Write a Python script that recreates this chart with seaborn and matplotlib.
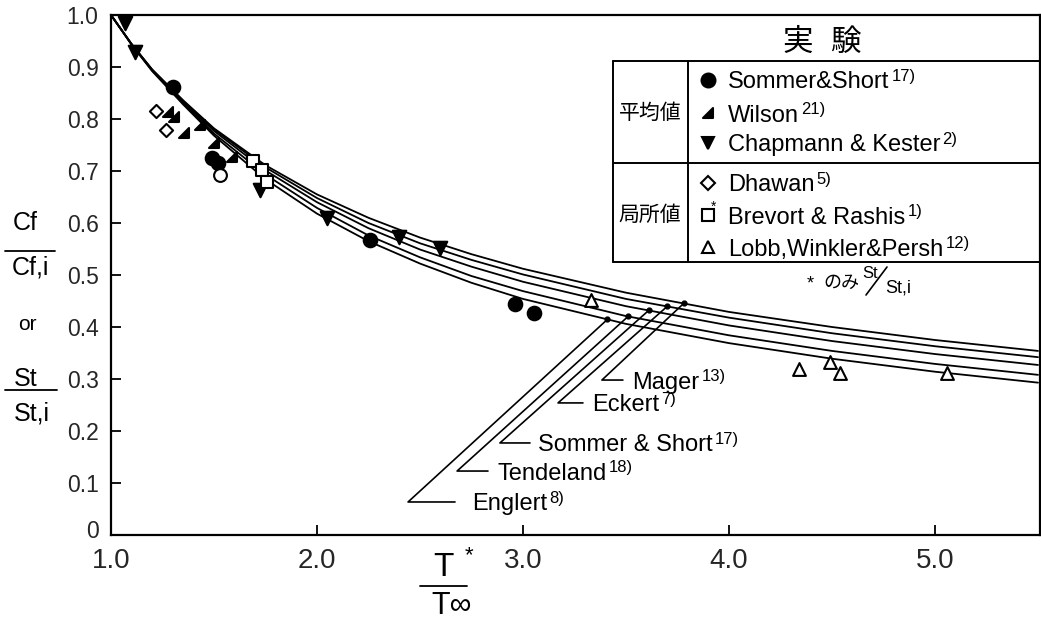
import numpy as np
import pandas as pd
import matplotlib
matplotlib.use("Agg")
import matplotlib.pyplot as plt
import seaborn as sns
from matplotlib.path import Path
from matplotlib.lines import Line2D
from matplotlib.transforms import ScaledTranslation

# ---------------------------------------------------------------- data
# Reference-temperature ratio T*/T_inf at which the correlation curves are tabulated
t_ratio = [1.0, 1.1, 1.2, 1.35, 1.5, 1.75, 2.0, 2.25, 2.5, 2.75, 3.0, 3.5, 4.0, 4.5, 5.0, 5.5]

# Cf/Cf,i (or St/St,i) predicted by each method
curve_names = ["Mager", "Eckert", "Sommer & Short", "Tendeland", "Englert"]
curve_refs = ["13)", "7)", "17)", "18)", "8)"]
mager = [1.0, 0.944, 0.895, 0.836, 0.782, 0.711, 0.655, 0.610, 0.572, 0.540, 0.512, 0.466, 0.429, 0.400, 0.375, 0.354]
eckert = [1.0, 0.944, 0.895, 0.835, 0.780, 0.707, 0.648, 0.600, 0.561, 0.529, 0.501, 0.454, 0.418, 0.388, 0.363, 0.342]
sommer_short_curve = [1.0, 0.944, 0.894, 0.833, 0.777, 0.701, 0.640, 0.590, 0.549, 0.516, 0.487, 0.440, 0.403, 0.373, 0.348, 0.327]
tendeland = [1.0, 0.943, 0.893, 0.831, 0.772, 0.693, 0.629, 0.576, 0.534, 0.498, 0.469, 0.421, 0.384, 0.354, 0.329, 0.308]
englert = [1.0, 0.943, 0.892, 0.828, 0.768, 0.684, 0.618, 0.565, 0.522, 0.485, 0.454, 0.406, 0.369, 0.339, 0.314, 0.293]
curve_values = [mager, eckert, sommer_short_curve, tendeland, englert]

# Experimental data -- mean values
sommer_x = [1.30, 1.49, 1.52, 2.257, 2.961, 3.053]
sommer_y = [0.862, 0.725, 0.715, 0.567, 0.444, 0.427]
wilson_x = [1.277, 1.306, 1.354, 1.432, 1.50, 1.587]
wilson_y = [0.813, 0.804, 0.773, 0.788, 0.754, 0.727]
chapmann_x = [1.068, 1.117, 1.723, 2.05, 2.40, 2.597]
chapmann_y = [0.985, 0.929, 0.663, 0.610, 0.573, 0.552]
# Experimental data -- local values
dhawan_x = [1.218, 1.267]
dhawan_y = [0.815, 0.779]
brevort_x = [1.689, 1.733, 1.757]
brevort_y = [0.719, 0.702, 0.679]
lobb_x = [3.33, 4.34, 4.49, 4.54, 5.06]
lobb_y = [0.452, 0.319, 0.333, 0.312, 0.312]
open_x = [1.529]
open_y = [0.692]

x_ticks = [1.0, 2.0, 3.0, 4.0, 5.0]
x_ticklabels = ["1.0", "2.0", "3.0", "4.0", "5.0"]
y_ticks = [0.0, 0.1, 0.2, 0.3, 0.4, 0.5, 0.6, 0.7, 0.8, 0.9, 1.0]
y_ticklabels = ["0", "0.1", "0.2", "0.3", "0.4", "0.5", "0.6", "0.7", "0.8", "0.9", "1.0"]

# ---------------------------------------------------------------- style
sns.set_style("ticks")
SANS = ["Liberation Sans", "DejaVu Sans"]
CJK = ["Noto Sans CJK JP", "DejaVu Sans"]
plt.rcParams["font.family"] = SANS
plt.rcParams["axes.linewidth"] = 1.6
plt.rcParams["text.color"] = "black"

W, H = 1041, 623
fig = plt.figure(figsize=(W / 100, H / 100), dpi=100)
fig.patch.set_facecolor("white")
ax = fig.add_axes([111 / W, 1 - 535 / H, (1040 - 111) / W, (535 - 15) / H])


def fx(px):
    return px / W


def fy(py):
    return 1 - py / H


def add_ref(text_artist, ref, size):
    """Attach a superscript reference number to the upper right of a text."""
    ax.annotate(ref, xy=(1, 0.78), xycoords=text_artist, xytext=(1.5, 0),
                textcoords="offset points", fontsize=size, ha="left", va="center")


# right-angled filled triangle used for Wilson's data
wilson_marker = Path([(-1, -1), (1, -1), (1, 1), (-1, -1)],
                     [Path.MOVETO, Path.LINETO, Path.LINETO, Path.CLOSEPOLY])

# ---------------------------------------------------------------- curves
curve_df = pd.DataFrame({
    "ratio": np.tile(t_ratio, len(curve_names)),
    "value": np.concatenate(curve_values),
    "method": np.repeat(curve_names, len(t_ratio)),
})
sns.lineplot(data=curve_df, x="ratio", y="value", hue="method",
             palette={n: "black" for n in curve_names}, estimator=None,
             linewidth=1.3, legend=False, ax=ax, zorder=2)

# ---------------------------------------------------------------- experiments
series = [
    (sommer_x, sommer_y, "o", "black", 95),
    (wilson_x, wilson_y, wilson_marker, "black", 55),
    (chapmann_x, chapmann_y, "v", "black", 95),
    (dhawan_x, dhawan_y, "D", "white", 45),
    (brevort_x, brevort_y, "s", "white", 70),
    (lobb_x, lobb_y, "^", "white", 85),
    (open_x, open_y, "o", "white", 85),
]
for xs, ys, mk, fc, size in series:
    sns.scatterplot(x=xs, y=ys, marker=mk, s=size, facecolor=fc,
                    edgecolor="black", linewidth=1.5, ax=ax, zorder=4)

# ---------------------------------------------------------------- curve labels
# (dot x on curve, corner x, corner y, shelf end x, text x)
leaders = [
    (3.78, 3.383, 0.298, 3.485, 3.53),
    (3.70, 3.170, 0.254, 3.291, 3.335),
    (3.61, 2.888, 0.177, 3.034, 3.073),
    (3.51, 2.680, 0.123, 2.830, 2.874),
    (3.41, 2.442, 0.0635, 2.670, 2.752),
]
for name, ref, vals, (xd, cx, cy, ex, tx) in zip(curve_names, curve_refs, curve_values, leaders):
    yd = float(np.interp(xd, t_ratio, vals))
    ax.plot([xd, cx, ex], [yd, cy, cy], color="black", lw=1.2, zorder=3)
    ax.plot([xd], [yd], "o", color="black", ms=3.5, zorder=3)
    t = ax.text(tx, cy, name, fontsize=17, ha="left", va="center_baseline")
    add_ref(t, ref, 12)

# ---------------------------------------------------------------- axes
ax.set_xlim(1.0, 1.0 + (1040 - 111) / 206)
ax.set_ylim(0, 1.0)
ax.set_xticks(x_ticks)
ax.set_xticklabels(x_ticklabels, fontsize=20)
ax.set_yticks(y_ticks)
ax.set_yticklabels(y_ticklabels, fontsize=16.5)
ax.tick_params(axis="both", direction="in", length=7, width=1.3, color="black")
ax.tick_params(axis="y", pad=9)
ax.tick_params(axis="x", pad=9)
# lift the "0" label slightly so it sits above the "1.0" of the x axis
zero_label = ax.get_yticklabels()[0]
zero_label.set_transform(zero_label.get_transform() + ScaledTranslation(0, 4 / 72, fig.dpi_scale_trans))
ax.set_xlabel("")
ax.set_ylabel("")
for s in ax.spines.values():
    s.set_visible(True)
    s.set_color("black")

# y-axis label: Cf/Cf,i or St/St,i
fig.text(fx(25), fy(223), "Cf", fontsize=18, ha="center", va="center")
fig.add_artist(Line2D([fx(5), fx(55)], [fy(251), fy(251)], color="black", lw=1.3))
fig.text(fx(30), fy(267), "Cf,i", fontsize=18, ha="center", va="center")
fig.text(fx(27), fy(325), "or", fontsize=15, ha="center", va="center")
fig.text(fx(26), fy(379), "St", fontsize=18, ha="center", va="center")
fig.add_artist(Line2D([fx(5), fx(57)], [fy(390), fy(390)], color="black", lw=1.3))
fig.text(fx(32), fy(413), "St,i", fontsize=18, ha="center", va="center")

# x-axis label: T*/T_inf
fig.text(fx(443), fy(567), "T", fontsize=24, ha="center", va="center")
fig.text(fx(469), fy(556), "*", fontsize=16, ha="center", va="center")
fig.add_artist(Line2D([fx(420), fx(467)], [fy(586), fy(586)], color="black", lw=1.3))
fig.text(fx(452), fy(606), "T\u221e", fontsize=22, ha="center", va="center")

# ---------------------------------------------------------------- key table
tbl_l, tbl_r, col_x = 613, 1040, 688
row_lines = [61, 163, 262]
for ry in row_lines:
    fig.add_artist(Line2D([fx(tbl_l), fx(tbl_r)], [fy(ry), fy(ry)], color="black", lw=1.4))
for vx in (tbl_l, col_x):
    fig.add_artist(Line2D([fx(vx), fx(vx)], [fy(61), fy(262)], color="black", lw=1.4))

fig.text(fx(798), fy(42), "実", fontsize=22, ha="center", va="center", family=CJK)
fig.text(fx(845), fy(42), "験", fontsize=22, ha="center", va="center", family=CJK)
fig.text(fx(650), fy(113), "平均値", fontsize=15, ha="center", va="center", family=CJK)
fig.text(fx(650), fy(215), "局所値", fontsize=15, ha="center", va="center", family=CJK)

key_rows = [
    (80, "o", "black", 10, "Sommer&Short", "17)"),
    (113, wilson_marker, "black", 7, "Wilson", "21)"),
    (143, "v", "black", 9, "Chapmann & Kester", "2)"),
    (183, "D", "white", 7, "Dhawan", "5)"),
    (215, "s", "white", 8, "Brevort & Rashis", "1)"),
    (247, "^", "white", 9, "Lobb,Winkler&Persh", "12)"),
]
for ry, mk, fc, ms, label, ref in key_rows:
    fig.add_artist(Line2D([fx(708)], [fy(ry)], marker=mk, ms=ms, mfc=fc,
                          mec="black", mew=1.5, linestyle="none"))
    t = fig.text(fx(728), fy(ry), label, fontsize=17, ha="left", va="center_baseline")
    add_ref(t, ref, 12)
fig.text(fx(714), fy(207), "*", fontsize=10, ha="center", va="center")

# footnote: *のみ St/St,i
fig.text(fx(810), fy(284), "*", fontsize=13, ha="center", va="center")
fig.text(fx(841), fy(283), "のみ", fontsize=13, ha="center", va="center", family=CJK)
fig.text(fx(870), fy(273), "St", fontsize=12, ha="center", va="center")
fig.add_artist(Line2D([fx(866), fx(887)], [fy(295), fy(267)], color="black", lw=1.2))
fig.text(fx(898), fy(288), "St,i", fontsize=13, ha="center", va="center")

fig.savefig("out.png", dpi=100, facecolor="white")
